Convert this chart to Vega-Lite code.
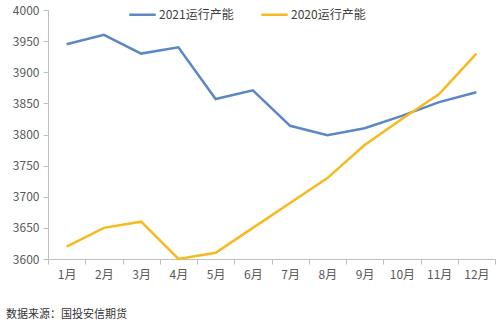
{
  "$schema": "https://vega.github.io/schema/vega-lite/v6.json",
  "width": 500,
  "height": 332,
  "autosize": {"type": "fit", "contains": "padding"},
  "padding": {"left": 6, "top": 4, "right": 4, "bottom": 12},
  "background": "white",
  "config": {
    "font": "Noto Sans CJK SC",
    "view": {"stroke": null}
  },
  "title": {
    "text": "数据来源：国投安信期货",
    "orient": "bottom",
    "anchor": "start",
    "frame": "group",
    "dx": -42,
    "offset": 29,
    "fontSize": 11,
    "fontWeight": "normal",
    "color": "#333333",
    "font": "Noto Sans CJK SC"
  },
  "data": {
    "values": [
      {"month": "1月", "series": "2021运行产能", "value": 3945},
      {"month": "2月", "series": "2021运行产能", "value": 3960},
      {"month": "3月", "series": "2021运行产能", "value": 3930},
      {"month": "4月", "series": "2021运行产能", "value": 3940},
      {"month": "5月", "series": "2021运行产能", "value": 3857},
      {"month": "6月", "series": "2021运行产能", "value": 3871},
      {"month": "7月", "series": "2021运行产能", "value": 3814},
      {"month": "8月", "series": "2021运行产能", "value": 3799},
      {"month": "9月", "series": "2021运行产能", "value": 3810},
      {"month": "10月", "series": "2021运行产能", "value": 3830},
      {"month": "11月", "series": "2021运行产能", "value": 3852},
      {"month": "12月", "series": "2021运行产能", "value": 3868},
      {"month": "1月", "series": "2020运行产能", "value": 3620},
      {"month": "2月", "series": "2020运行产能", "value": 3650},
      {"month": "3月", "series": "2020运行产能", "value": 3660},
      {"month": "4月", "series": "2020运行产能", "value": 3600},
      {"month": "5月", "series": "2020运行产能", "value": 3610},
      {"month": "6月", "series": "2020运行产能", "value": 3650},
      {"month": "7月", "series": "2020运行产能", "value": 3690},
      {"month": "8月", "series": "2020运行产能", "value": 3730},
      {"month": "9月", "series": "2020运行产能", "value": 3783},
      {"month": "10月", "series": "2020运行产能", "value": 3825},
      {"month": "11月", "series": "2020运行产能", "value": 3865},
      {"month": "12月", "series": "2020运行产能", "value": 3930}
    ]
  },
  "mark": {"type": "line", "strokeWidth": 2.5},
  "encoding": {
    "x": {
      "field": "month",
      "type": "nominal",
      "sort": ["1月","2月","3月","4月","5月","6月","7月","8月","9月","10月","11月","12月"],
      "scale": {"type": "band", "paddingInner": 0, "paddingOuter": 0},
      "axis": {
        "title": null,
        "labelAngle": 0,
        "labelFontSize": 12,
        "labelColor": "#595959",
        "labelPadding": 5,
        "domainColor": "#BFBFBF",
        "tickColor": "#BFBFBF",
        "tickSize": 5,
        "tickBand": "extent",
        "grid": false
      }
    },
    "y": {
      "field": "value",
      "type": "quantitative",
      "scale": {"domain": [3600, 4000], "nice": false, "zero": false},
      "axis": {
        "title": null,
        "format": "d",
        "values": [3600, 3650, 3700, 3750, 3800, 3850, 3900, 3950, 4000],
        "labelFontSize": 12,
        "labelColor": "#595959",
        "labelPadding": 4,
        "domainColor": "#BFBFBF",
        "tickColor": "#BFBFBF",
        "tickSize": 5,
        "grid": false
      }
    },
    "color": {
      "field": "series",
      "type": "nominal",
      "scale": {"domain": ["2021运行产能", "2020运行产能"], "range": ["#5B87C5", "#F7BA1E"]},
      "legend": {
        "title": null,
        "orient": "none",
        "direction": "horizontal",
        "legendX": 80,
        "legendY": -10,
        "symbolType": "stroke",
        "symbolSize": 700,
        "symbolStrokeWidth": 2.5,
        "labelFontSize": 12,
        "labelColor": "#404040",
        "columnPadding": 22,
        "labelOffset": 2
      }
    }
  }
}
